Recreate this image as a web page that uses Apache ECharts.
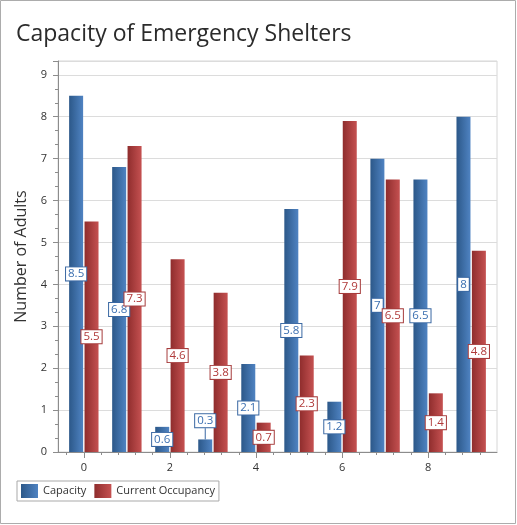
<!DOCTYPE html>
<html>
<head>
<meta charset="utf-8">
<script src="https://cdn.jsdelivr.net/npm/echarts@6/dist/echarts.min.js"></script>
<style>
  html, body { margin: 0; padding: 0; background: #fff; }
  #chart { width: 517px; height: 525px; }
</style>
</head>
<body>
<div id="chart"></div>
<script>
// shelter index along the x axis
const shelters = [0, 1, 2, 3, 4, 5, 6, 7, 8, 9];
const capacity = [8.5, 6.8, 0.6, 0.3, 2.1, 5.8, 1.2, 7, 6.5, 8];
const occupancy = [5.5, 7.3, 4.6, 3.8, 0.7, 2.3, 7.9, 6.5, 1.4, 4.8];
const xTickLabels = [0, 2, 4, 6, 8];

const FONT = 'Open Sans';

// minor ticks on the x axis every 0.4
const xMinor = [];
for (let v = -0.4; v < 9.6; v += 0.4) {
  const r = Math.round(v * 10) / 10;
  if (xTickLabels.indexOf(r) < 0) xMinor.push(r);
}

const blueGrad = new echarts.graphic.LinearGradient(0, 0, 1, 0, [
  { offset: 0, color: '#2c5889' },
  { offset: 1, color: '#4f83c2' }
]);
const redGrad = new echarts.graphic.LinearGradient(0, 0, 1, 0, [
  { offset: 0, color: '#8f2d2d' },
  { offset: 1, color: '#c55151' }
]);

function labelStyle(color, border) {
  return {
    show: true,
    position: 'inside',
    color: color,
    fontFamily: FONT,
    fontSize: 11.5,
    lineHeight: 12,
    backgroundColor: '#fff',
    borderColor: border,
    borderWidth: 1,
    padding: [1, 2, 0, 2]
  };
}

const chart = echarts.init(document.getElementById('chart'));

chart.setOption({
  animation: false,
  textStyle: { fontFamily: FONT },
  graphic: [{
    type: 'rect',
    shape: { x: 0.5, y: 0.5, width: 515, height: 523 },
    style: { fill: 'none', stroke: '#acacac', lineWidth: 1 }
  }],
  title: {
    text: 'Capacity of Emergency Shelters',
    left: 11,
    top: 18,
    textStyle: { fontFamily: FONT, fontSize: 23, fontWeight: 'normal', color: '#2b2b2b' }
  },
  legend: {
    left: 17,
    top: 481,
    orient: 'horizontal',
    padding: [3, 4, 3, 4],
    itemWidth: 17,
    itemHeight: 14,
    itemGap: 8,
    borderColor: '#a9a9a9',
    borderWidth: 1,
    icon: 'rect',
    textStyle: { fontFamily: FONT, fontSize: 11, color: '#333' },
    data: ['Capacity', 'Current Occupancy']
  },
  grid: {
    left: 58,
    right: 20,
    top: 61,
    bottom: 73,
    show: true,
    borderColor: '#d6d6d6',
    borderWidth: 1
  },
  xAxis: [{
    type: 'value',
    min: -0.6,
    max: 9.6,
    axisLine: { onZero: false, lineStyle: { color: '#8c8c8c' } },
    axisTick: { customValues: xTickLabels, length: 6, lineStyle: { color: '#8c8c8c' } },
    axisLabel: { customValues: xTickLabels, margin: 10, color: '#333', fontSize: 11, fontFamily: FONT },
    splitLine: { show: false }
  }, {
    type: 'value',
    position: 'bottom',
    min: -0.6,
    max: 9.6,
    axisLine: { show: false, onZero: false },
    axisTick: { customValues: xMinor, length: 3, lineStyle: { color: '#8c8c8c' } },
    axisLabel: { show: false },
    splitLine: { show: false }
  }],
  yAxis: {
    type: 'value',
    min: 0,
    max: 9.33,
    interval: 1,
    name: 'Number of Adults',
    nameLocation: 'middle',
    nameGap: 24,
    nameTextStyle: { fontFamily: FONT, fontSize: 16, color: '#333' },
    axisLine: { show: true, onZero: false, lineStyle: { color: '#8c8c8c' } },
    axisTick: { show: true, length: 5, lineStyle: { color: '#8c8c8c' } },
    minorTick: { show: true, splitNumber: 3, length: 3, lineStyle: { color: '#8c8c8c' } },
    axisLabel: {
      margin: 11,
      color: '#333',
      fontSize: 11,
      fontFamily: FONT,
      formatter: v => (Number.isInteger(v) ? String(v) : '')
    },
    splitLine: { lineStyle: { color: '#dcdcdc' } }
  },
  series: [{
    name: 'Capacity',
    type: 'bar',
    barWidth: 14,
    barGap: '10%',
    itemStyle: { color: blueGrad },
    label: labelStyle('#3b6fb0', '#3a68a3'),
    labelLine: { show: false, lineStyle: { color: '#3a68a3', width: 1 } },
    labelLayout: p => (p.dataIndex === 3 ? { dy: -25 } : {}),
    data: shelters.map((s, i) => (i === 3
      ? { value: [s, capacity[i]], labelLine: { show: true, lineStyle: { color: '#3a68a3' } } }
      : [s, capacity[i]]))
  }, {
    name: 'Current Occupancy',
    type: 'bar',
    barWidth: 14,
    barGap: '10%',
    itemStyle: { color: redGrad },
    label: labelStyle('#b03a3a', '#a63c3c'),
    data: shelters.map((s, i) => [s, occupancy[i]])
  }]
});
</script>
</body>
</html>
